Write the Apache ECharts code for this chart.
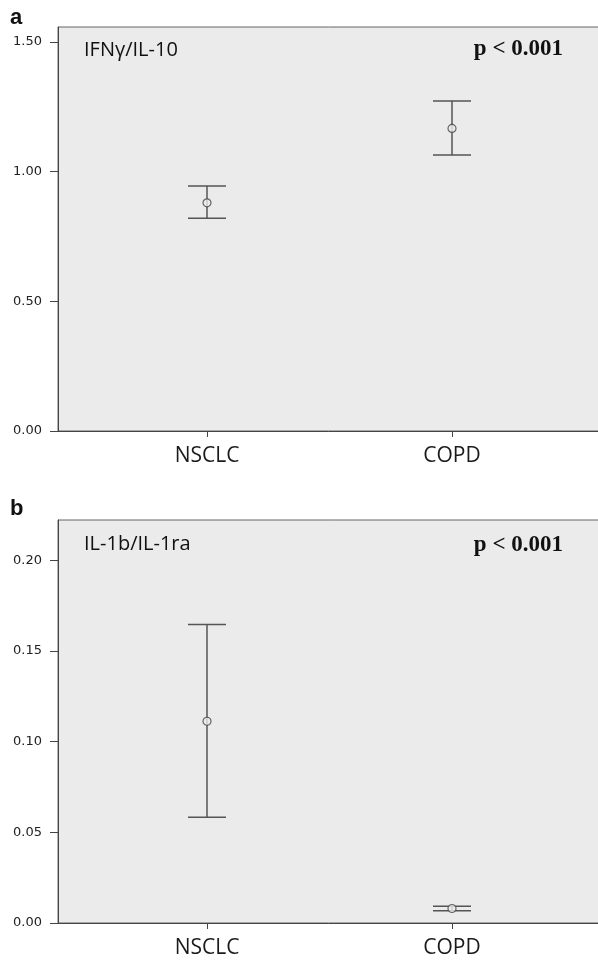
<!DOCTYPE html>
<html><head><meta charset="utf-8">
<script src="https://cdn.jsdelivr.net/npm/echarts@6/dist/echarts.min.js"></script>
<style>html,body{margin:0;padding:0;background:#fff}#c{width:598px;height:960px}</style>
</head><body><div id="c"></div>
<script>
// ---- data ----
const categories = ['NSCLC', 'COPD'];
const catPos = [1, 2];
const ratioA_mean = [0.880, 1.167];
const ratioA_low  = [0.820, 1.064];
const ratioA_high = [0.945, 1.273];
const ratioB_mean = [0.1113, 0.0080];
const ratioB_low  = [0.0584, 0.0068];
const ratioB_high = [0.1647, 0.0093];
const yTicksA = [0, 0.5, 1.0, 1.5];
const yTicksB = [0, 0.05, 0.10, 0.15, 0.20];
const panelTitles = ['IFNγ/IL-10', 'IL-1b/IL-1ra'];
const pTexts = ['p < 0.001', 'p < 0.001'];
const panelLetters = ['a', 'b'];

// ---- chart ----
const chart = echarts.init(document.getElementById('c'), null, {renderer: 'canvas'});
const axisColor = '#444';
const barColor = '#555';

function xAxisCfg(gi) {
  return {
    type: 'value', gridIndex: gi, min: 0.39184, max: 2.62041,
    splitLine: {show: false},
    axisLine: {show: true, lineStyle: {color: axisColor, width: 1}},
    axisTick: {show: true, customValues: catPos, length: 6, lineStyle: {color: axisColor}},
    axisLabel: {
      customValues: catPos, margin: 15,
      formatter: v => categories[catPos.indexOf(v)] || '',
      fontFamily: 'Open Sans', fontSize: 21, color: '#1a1a1a'
    }
  };
}
function yAxisCfg(gi, max, ticks) {
  return {
    type: 'value', gridIndex: gi, min: 0, max: max,
    splitLine: {show: false},
    axisLine: {show: true, lineStyle: {color: axisColor, width: 1}},
    axisTick: {show: true, customValues: ticks, length: 8, lineStyle: {color: axisColor}},
    axisLabel: {
      customValues: ticks, margin: 16,
      formatter: v => v.toFixed(2),
      fontFamily: 'DejaVu Sans', fontSize: 13, color: '#222'
    }
  };
}
function errSeries(gi, low, high) {
  return {
    type: 'custom', xAxisIndex: gi, yAxisIndex: gi, z: 2,
    encode: {x: 0, y: [1, 2]},
    data: catPos.map((x, i) => [x, low[i], high[i]]),
    renderItem: function (params, api) {
      const x = api.value(0);
      const pLo = api.coord([x, api.value(1)]);
      const pHi = api.coord([x, api.value(2)]);
      const hw = 19;
      const st = {stroke: barColor, lineWidth: 1.5};
      return {type: 'group', children: [
        {type: 'line', shape: {x1: pHi[0], y1: pHi[1], x2: pLo[0], y2: pLo[1]}, style: st},
        {type: 'line', shape: {x1: pHi[0] - hw, y1: pHi[1], x2: pHi[0] + hw, y2: pHi[1]}, style: st},
        {type: 'line', shape: {x1: pLo[0] - hw, y1: pLo[1], x2: pLo[0] + hw, y2: pLo[1]}, style: st}
      ]};
    }
  };
}
function meanSeries(gi, mean) {
  return {
    type: 'scatter', xAxisIndex: gi, yAxisIndex: gi, z: 3,
    symbol: 'circle', symbolSize: 8,
    itemStyle: {color: '#ebebeb', borderColor: '#444', borderWidth: 1.2},
    data: catPos.map((x, i) => [x, mean[i]]),
    silent: true
  };
}
function txt(x, y, text, font, size, weight, align) {
  return {type: 'text', x: x, y: y, z: 10,
    style: {text: text, fontFamily: font, fontSize: size, fontWeight: weight,
      fill: '#111', align: align, verticalAlign: 'middle'}};
}

chart.setOption({
  animation: false,
  backgroundColor: '#fff',
  grid: [
    {left: 58, top: 27, width: 546, height: 404, outerBoundsMode: 'none', containLabel: false, show: true, backgroundColor: '#ebebeb', borderColor: '#666', borderWidth: 1},
    {left: 58, top: 520, width: 546, height: 403, outerBoundsMode: 'none', containLabel: false, show: true, backgroundColor: '#ebebeb', borderColor: '#666', borderWidth: 1}
  ],
  xAxis: [xAxisCfg(0), xAxisCfg(1)],
  yAxis: [yAxisCfg(0, 1.558, yTicksA), yAxisCfg(1, 0.2223, yTicksB)],
  series: [
    errSeries(0, ratioA_low, ratioA_high), meanSeries(0, ratioA_mean),
    errSeries(1, ratioB_low, ratioB_high), meanSeries(1, ratioB_mean)
  ],
  graphic: [
    txt(10, 17.5, panelLetters[0], 'Liberation Sans', 22, 'bold', 'left'),
    txt(10, 509, panelLetters[1], 'Liberation Sans', 22, 'bold', 'left'),
    txt(84, 50, panelTitles[0], 'Open Sans', 20, 'normal', 'left'),
    txt(84, 544.5, panelTitles[1], 'Open Sans', 20, 'normal', 'left'),
    txt(563, 49.5, pTexts[0], 'Liberation Serif', 23, 'bold', 'right'),
    txt(563, 545.5, pTexts[1], 'Liberation Serif', 23, 'bold', 'right')
  ]
});
</script></body></html>
